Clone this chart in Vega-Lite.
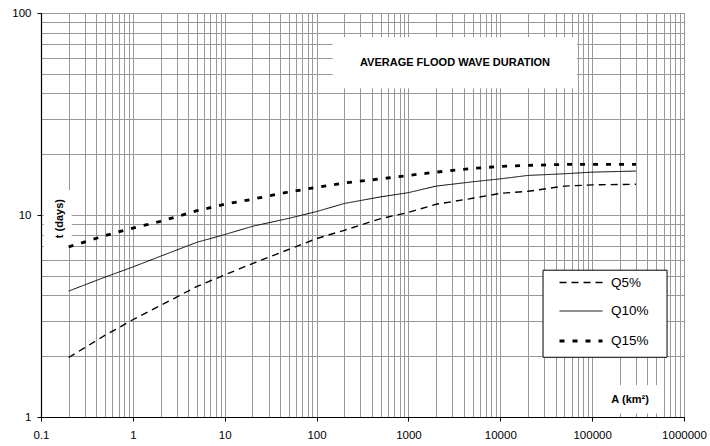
{
  "$schema": "https://vega.github.io/schema/vega-lite/v6.json",
  "width": 643,
  "height": 404,
  "autosize": {"type": "none"},
  "padding": {"left": 41, "top": 13, "right": 26, "bottom": 29},
  "background": "white",
  "config": {
    "view": {"stroke": "black", "strokeWidth": 1},
    "font": "Liberation Sans",
    "axis": {
      "gridColor": "#999999",
      "gridWidth": 1,
      "gridOpacity": 1,
      "domainColor": "black",
      "domainWidth": 1.2,
      "tickColor": "black",
      "tickSize": 4,
      "labelFont": "Liberation Sans",
      "labelFontSize": 11.5,
      "labelColor": "black",
      "labelOverlap": false,
      "labelBound": false,
      "labelFlush": false,
      "title": null
    },
    "legend": {
      "orient": "none",
      "legendX": 517,
      "legendY": 247,
      "title": null,
      "symbolType": "stroke",
      "symbolSize": 1849,
      "symbolStrokeColor": "black",
      "labelFont": "Liberation Sans",
      "labelFontSize": 13.5,
      "labelColor": "black",
      "labelOffset": 7,
      "padding": 0,
      "rowPadding": -14.5
    }
  },
  "datasets": {
    "curves": [
      {"A": 0.2, "t": 1.97, "series": "Q5%"},
      {"A": 0.5, "t": 2.54, "series": "Q5%"},
      {"A": 1, "t": 3.03, "series": "Q5%"},
      {"A": 2, "t": 3.57, "series": "Q5%"},
      {"A": 5, "t": 4.43, "series": "Q5%"},
      {"A": 10, "t": 5.05, "series": "Q5%"},
      {"A": 20, "t": 5.75, "series": "Q5%"},
      {"A": 50, "t": 6.76, "series": "Q5%"},
      {"A": 100, "t": 7.64, "series": "Q5%"},
      {"A": 200, "t": 8.4, "series": "Q5%"},
      {"A": 500, "t": 9.6, "series": "Q5%"},
      {"A": 1000, "t": 10.3, "series": "Q5%"},
      {"A": 2000, "t": 11.3, "series": "Q5%"},
      {"A": 5000, "t": 12.1, "series": "Q5%"},
      {"A": 10000, "t": 12.8, "series": "Q5%"},
      {"A": 20000, "t": 13.1, "series": "Q5%"},
      {"A": 50000, "t": 13.9, "series": "Q5%"},
      {"A": 100000, "t": 14.1, "series": "Q5%"},
      {"A": 300000, "t": 14.2, "series": "Q5%"},
      {"A": 0.2, "t": 4.2, "series": "Q10%"},
      {"A": 0.5, "t": 4.93, "series": "Q10%"},
      {"A": 1, "t": 5.53, "series": "Q10%"},
      {"A": 2, "t": 6.25, "series": "Q10%"},
      {"A": 5, "t": 7.33, "series": "Q10%"},
      {"A": 10, "t": 8.0, "series": "Q10%"},
      {"A": 20, "t": 8.79, "series": "Q10%"},
      {"A": 50, "t": 9.63, "series": "Q10%"},
      {"A": 100, "t": 10.4, "series": "Q10%"},
      {"A": 200, "t": 11.4, "series": "Q10%"},
      {"A": 500, "t": 12.3, "series": "Q10%"},
      {"A": 1000, "t": 12.9, "series": "Q10%"},
      {"A": 2000, "t": 13.9, "series": "Q10%"},
      {"A": 5000, "t": 14.6, "series": "Q10%"},
      {"A": 10000, "t": 15.1, "series": "Q10%"},
      {"A": 20000, "t": 15.7, "series": "Q10%"},
      {"A": 50000, "t": 16.0, "series": "Q10%"},
      {"A": 100000, "t": 16.3, "series": "Q10%"},
      {"A": 300000, "t": 16.5, "series": "Q10%"},
      {"A": 0.2, "t": 6.95, "series": "Q15%"},
      {"A": 0.5, "t": 7.91, "series": "Q15%"},
      {"A": 1, "t": 8.62, "series": "Q15%"},
      {"A": 2, "t": 9.3, "series": "Q15%"},
      {"A": 5, "t": 10.5, "series": "Q15%"},
      {"A": 10, "t": 11.3, "series": "Q15%"},
      {"A": 20, "t": 11.97, "series": "Q15%"},
      {"A": 50, "t": 13.0, "series": "Q15%"},
      {"A": 100, "t": 13.7, "series": "Q15%"},
      {"A": 200, "t": 14.4, "series": "Q15%"},
      {"A": 500, "t": 15.1, "series": "Q15%"},
      {"A": 1000, "t": 15.7, "series": "Q15%"},
      {"A": 2000, "t": 16.3, "series": "Q15%"},
      {"A": 5000, "t": 17.0, "series": "Q15%"},
      {"A": 10000, "t": 17.4, "series": "Q15%"},
      {"A": 20000, "t": 17.6, "series": "Q15%"},
      {"A": 50000, "t": 17.8, "series": "Q15%"},
      {"A": 100000, "t": 17.8, "series": "Q15%"},
      {"A": 300000, "t": 17.8, "series": "Q15%"}
    ]
  },
  "encoding": {
    "x": {
      "field": "A",
      "type": "quantitative",
      "scale": {"type": "log", "domain": [0.1, 1000000], "nice": false},
      "axis": {
        "values": [0.1,0.2,0.3,0.4,0.5,0.6,0.7,0.8,0.9,1,2,3,4,5,6,7,8,9,10,20,30,40,50,60,70,80,90,100,200,300,400,500,600,700,800,900,1000,2000,3000,4000,5000,6000,7000,8000,9000,10000,20000,30000,40000,50000,60000,70000,80000,90000,100000,200000,300000,400000,500000,600000,700000,800000,900000,1000000],
        "labelExpr": "abs(log(datum.value)/LN10 - round(log(datum.value)/LN10)) < 1e-6 ? format(datum.value, '~f') : ''",
        "tickOpacity": {"condition": {"test": "abs(log(datum.value)/LN10 - round(log(datum.value)/LN10)) < 1e-6", "value": 1}, "value": 0},
        "labelPadding": 8
      }
    },
    "y": {
      "field": "t",
      "type": "quantitative",
      "scale": {"type": "log", "domain": [1, 100], "nice": false},
      "axis": {
        "values": [1,2,3,4,5,6,7,8,9,10,20,30,40,50,60,70,80,90,100],
        "labelExpr": "abs(log(datum.value)/LN10 - round(log(datum.value)/LN10)) < 1e-6 ? format(datum.value, '~f') : ''",
        "tickOpacity": {"condition": {"test": "abs(log(datum.value)/LN10 - round(log(datum.value)/LN10)) < 1e-6", "value": 1}, "value": 0},
        "labelPadding": 6
      }
    }
  },
  "layer": [
    {
      "data": {"values": [
        {"A": 150, "A2": 68400, "t": 75.8, "t2": 42.4},
        {"A": 0.107, "A2": 0.216, "t": 13.3, "t2": 6.92},
        {"A": 122000, "A2": 509000, "t": 1.436, "t2": 1.04}
      ]},
      "mark": {"type": "rect", "fill": "white", "stroke": null},
      "encoding": {"x2": {"field": "A2"}, "y2": {"field": "t2"}}
    },
    {
      "data": {"values": [
        {"A": 29200, "A2": 654000, "t": 5.33, "t2": 1.975}
      ]},
      "mark": {"type": "rect", "fill": "white", "stroke": "black", "strokeWidth": 1},
      "encoding": {"x2": {"field": "A2"}, "y2": {"field": "t2"}}
    },
    {
      "data": {"name": "curves"},
      "mark": {"type": "line", "color": "black", "strokeCap": "butt", "clip": true},
      "encoding": {
        "strokeDash": {
          "field": "series", "type": "nominal",
          "scale": {"domain": ["Q5%", "Q10%", "Q15%"], "range": [[7, 5], [1, 0], [5, 8]]},
          "legend": {"title": null}
        },
        "strokeWidth": {
          "field": "series", "type": "nominal",
          "scale": {"type": "ordinal", "domain": ["Q5%", "Q10%", "Q15%"], "range": [1.4, 1, 2.8]},
          "legend": {"title": null}
        },
        "detail": {"field": "series"}
      }
    },
    {
      "data": {"values": [{"A": 3214, "t": 56.4, "label": "AVERAGE FLOOD WAVE DURATION"}]},
      "mark": {"type": "text", "font": "Liberation Sans", "fontWeight": "bold", "fontSize": 11, "color": "black", "align": "center", "baseline": "middle"},
      "encoding": {"text": {"field": "label"}}
    },
    {
      "data": {"values": [{"A": 0.16, "t": 9.6, "label": "t (days)"}]},
      "mark": {"type": "text", "font": "Liberation Sans", "fontWeight": "bold", "fontSize": 11, "color": "black", "angle": 270, "align": "center", "baseline": "middle"},
      "encoding": {"text": {"field": "label"}}
    },
    {
      "data": {"values": [{"A": 259000, "t": 1.21, "label": "A (km²)"}]},
      "mark": {"type": "text", "font": "Liberation Sans", "fontWeight": "bold", "fontSize": 11, "color": "black", "align": "center", "baseline": "middle"},
      "encoding": {"text": {"field": "label"}}
    }
  ]
}
